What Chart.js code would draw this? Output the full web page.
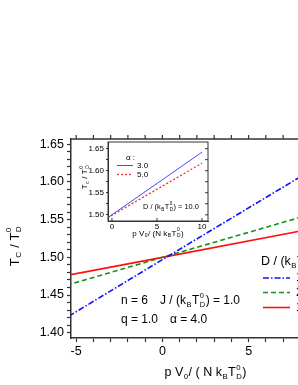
<!DOCTYPE html>
<html>
<head>
<meta charset="UTF-8">
<title>Tc vs pressure</title>
<script src="https://cdn.jsdelivr.net/npm/chart.js"></script>
<style>
  html, body { margin: 0; padding: 0; background: #fff; }
  #wrap { position: relative; width: 298px; height: 385px; overflow: hidden; }
  #main { position: absolute; left: 0; top: 0; }
  #inset { position: absolute; left: 78px; top: 135px; }
</style>
</head>
<body>
<div id="wrap">
  <canvas id="main" width="350" height="385"></canvas>
  <canvas id="inset" width="140" height="110"></canvas>
</div>
<script>
  // main panel: Tc/TD0 vs pV0/(N kB TD0) for three D values
  const mainX = [-6, 0, 11];
  const blueD = [1.414, 1.497, 1.648];
  const greenD = [1.460, 1.500, 1.573];
  const redD = [1.474, 1.500, 1.548];
  const legendLabels = ['10.0', '2.0', '1.0'];

  // inset: D/(kB TD0) = 10.0, two alpha values
  const insetX = [-0.5, 10];
  const alpha3 = [1.493, 1.642];
  const alpha5 = [1.493, 1.617];
  const insetLabels = ['3.0', '5.0'];

  const FONT = "'Liberation Sans', Arial, sans-serif";
  const AX = '#333';

  function pts(xs, ys) { return xs.map((x, i) => ({ x: x, y: ys[i] })); }

  // text with subscripts / superscripts: parts are strings or {b: sub, p: sup}
  function partWidth(ctx, p, size) {
    if (typeof p === 'string') { ctx.font = size + 'px ' + FONT; return ctx.measureText(p).width; }
    ctx.font = (size * 0.62) + 'px ' + FONT;
    return Math.max(p.b ? ctx.measureText(p.b).width : 0, p.p ? ctx.measureText(p.p).width : 0) + 1;
  }
  function drawRich(ctx, parts, x, y, size, align, rot) {
    ctx.save();
    ctx.translate(x, y);
    if (rot) ctx.rotate(rot);
    let w = 0;
    parts.forEach(p => { w += partWidth(ctx, p, size); });
    let cx = align === 'center' ? -w / 2 : 0;
    ctx.fillStyle = '#000';
    ctx.textBaseline = 'middle';
    ctx.textAlign = 'left';
    parts.forEach(p => {
      const pw = partWidth(ctx, p, size);
      if (typeof p === 'string') {
        ctx.font = size + 'px ' + FONT;
        ctx.fillText(p, cx, 0);
      } else {
        ctx.font = (size * 0.62) + 'px ' + FONT;
        if (p.b) ctx.fillText(p.b, cx + 0.5, size * 0.32);
        if (p.p) ctx.fillText(p.p, cx + 0.5, -size * 0.45);
      }
      cx += pw;
    });
    ctx.restore();
  }

  const TD0 = { b: 'D', p: '0' };

  const mainDeco = {
    id: 'mainDeco',
    afterDraw(chart) {
      const ctx = chart.ctx;
      const a = chart.chartArea;
      const xs = chart.scales.x, ys = chart.scales.y;
      ctx.save();
      ctx.strokeStyle = AX;
      ctx.lineWidth = 1.5;
      ctx.beginPath();
      ctx.moveTo(a.left, a.top); ctx.lineTo(a.right, a.top);
      ctx.moveTo(a.right, a.top); ctx.lineTo(a.right, a.bottom);
      ctx.stroke();
      ctx.lineWidth = 1.2;
      ctx.beginPath();
      xs.ticks.forEach(t => {
        const px = xs.getPixelForValue(t.value);
        ctx.moveTo(px, a.top); ctx.lineTo(px, a.top - 4);
      });
      ys.ticks.forEach(t => {
        const py = ys.getPixelForValue(t.value);
        ctx.moveTo(a.right, py); ctx.lineTo(a.right + 4, py);
      });
      ctx.stroke();

      // legend
      drawRich(ctx, ['D / (k', { b: 'B' }, 'T', TD0, ')'], 261, 262, 12.5, 'left');
      const rows = [278, 292.5, 307.5];
      chart.data.datasets.forEach((ds, i) => {
        ctx.strokeStyle = ds.borderColor;
        ctx.lineWidth = ds.borderWidth;
        ctx.setLineDash(ds.borderDash || []);
        ctx.beginPath();
        ctx.moveTo(263, rows[i]); ctx.lineTo(290, rows[i]);
        ctx.stroke();
        ctx.setLineDash([]);
        drawRich(ctx, [legendLabels[i]], 296, rows[i], 12.5, 'left');
      });

      // parameters
      drawRich(ctx, ['n = 6'], 121, 301, 12, 'left');
      drawRich(ctx, ['J / (k', { b: 'B' }, 'T', TD0, ') = 1.0'], 160, 301, 12, 'left');
      drawRich(ctx, ['q = 1.0'], 121, 320, 12, 'left');
      drawRich(ctx, ['\u03b1 = 4.0'], 170, 320, 12, 'left');

      // axis titles
      drawRich(ctx, ['p V', { b: '0' }, '/ ( N k', { b: 'B' }, 'T', TD0, ')'], (a.left + a.right) / 2, 373, 12.5, 'center');
      drawRich(ctx, ['T', { b: 'C' }, ' / T', TD0], 15, 246, 13, 'center', -Math.PI / 2);
      ctx.restore();
    }
  };

  new Chart(document.getElementById('main'), {
    type: 'scatter',
    data: {
      datasets: [
        { data: pts(mainX, blueD), showLine: true, borderColor: '#1010ff', borderWidth: 1.6, borderDash: [6, 2, 1.5, 2], pointRadius: 0 },
        { data: pts(mainX, greenD), showLine: true, borderColor: '#16901a', borderWidth: 1.6, borderDash: [5, 3], pointRadius: 0 },
        { data: pts(mainX, redD), showLine: true, borderColor: '#ff1010', borderWidth: 1.6, pointRadius: 0 }
      ]
    },
    options: {
      responsive: false,
      animation: false,
      layout: { padding: { left: 0, top: 139, right: 10, bottom: 0 } },
      plugins: { legend: { display: false }, tooltip: { enabled: false } },
      scales: {
        x: {
          type: 'linear', min: -5.3, max: 10.3,
          border: { color: AX, width: 1.5 },
          grid: { drawOnChartArea: false, tickLength: 4, tickColor: AX, tickWidth: 1.2 },
          ticks: {
            stepSize: 1, includeBounds: false, autoSkip: false, maxRotation: 0, padding: 2,
            color: '#000', font: { size: 12.5, family: FONT },
            callback: v => (Math.round(v) % 5 === 0 ? String(Math.round(v)) : '')
          },
          afterFit: s => { s.height = 47; }
        },
        y: {
          type: 'linear', min: 1.393, max: 1.657,
          border: { color: AX, width: 1.5 },
          grid: { drawOnChartArea: false, tickLength: 4, tickColor: AX, tickWidth: 1.2 },
          ticks: {
            stepSize: 0.01, includeBounds: false, autoSkip: false, padding: 3,
            color: '#000', font: { size: 12.5, family: FONT },
            callback: v => (Math.round(v * 100) % 5 === 0 ? v.toFixed(2) : '')
          },
          afterFit: s => { s.width = 71; }
        }
      }
    },
    plugins: [mainDeco]
  });

  const insetDeco = {
    id: 'insetDeco',
    afterDraw(chart) {
      const ctx = chart.ctx;
      const a = chart.chartArea;
      const xs = chart.scales.x, ys = chart.scales.y;
      ctx.save();
      ctx.strokeStyle = AX;
      ctx.lineWidth = 1;
      ctx.strokeRect(a.left, a.top, a.right - a.left, a.bottom - a.top);
      ctx.beginPath();
      ys.ticks.forEach(t => {
        const py = ys.getPixelForValue(t.value);
        ctx.moveTo(a.right, py); ctx.lineTo(a.right - 3, py);
      });
      xs.ticks.forEach(t => {
        const px = xs.getPixelForValue(t.value);
        ctx.moveTo(px, a.bottom); ctx.lineTo(px, a.bottom - 3);
      });
      ctx.stroke();

      drawRich(ctx, ['\u03b1 :'], 48, 23, 8, 'left');
      const rows = [30.5, 39.5];
      chart.data.datasets.forEach((ds, i) => {
        ctx.strokeStyle = ds.borderColor;
        ctx.lineWidth = ds.borderWidth;
        ctx.setLineDash(ds.borderDash || []);
        ctx.beginPath();
        ctx.moveTo(39, rows[i]); ctx.lineTo(55, rows[i]);
        ctx.stroke();
        ctx.setLineDash([]);
        drawRich(ctx, [insetLabels[i]], 59, rows[i], 8, 'left');
      });
      drawRich(ctx, ['D / (k', { b: 'B' }, 'T', TD0, ') = 10.0'], 65, 72, 7.4, 'left');
      drawRich(ctx, ['p V', { b: '0' }, '/ (N k', { b: 'B' }, 'T', TD0, ')'], (a.left + a.right) / 2, 98.5, 8, 'center');
      drawRich(ctx, ['T', { b: 'c' }, ' / T', TD0], 7, 42, 8, 'center', -Math.PI / 2);
      ctx.restore();
    }
  };

  new Chart(document.getElementById('inset'), {
    type: 'scatter',
    data: {
      datasets: [
        { data: pts(insetX, alpha3), showLine: true, borderColor: '#4a4aff', borderWidth: 1, pointRadius: 0 },
        { data: pts(insetX, alpha5), showLine: true, borderColor: '#ff3030', borderWidth: 1.3, borderDash: [2, 2], pointRadius: 0 }
      ]
    },
    options: {
      responsive: false,
      animation: false,
      layout: { padding: { left: 0, top: 7, right: 10, bottom: 0 } },
      plugins: { legend: { display: false }, tooltip: { enabled: false } },
      scales: {
        x: {
          type: 'linear', min: -0.44, max: 10.67,
          border: { color: AX, width: 1 },
          grid: { drawOnChartArea: false, drawTicks: false },
          ticks: {
            stepSize: 5, includeBounds: false, autoSkip: false, maxRotation: 0, padding: 1,
            color: '#000', font: { size: 8, family: FONT }
          },
          afterFit: s => { s.height = 24; }
        },
        y: {
          type: 'linear', min: 1.486, max: 1.665,
          border: { color: AX, width: 1 },
          grid: { drawOnChartArea: false, tickLength: 2, tickColor: AX },
          ticks: {
            stepSize: 0.025, includeBounds: false, autoSkip: false, padding: 2,
            color: '#000', font: { size: 8, family: FONT },
            callback: v => (Math.round(v * 1000) % 50 === 0 ? v.toFixed(2) : '')
          },
          afterFit: s => { s.width = 30; }
        }
      }
    },
    plugins: [insetDeco]
  });
</script>
</body>
</html>
